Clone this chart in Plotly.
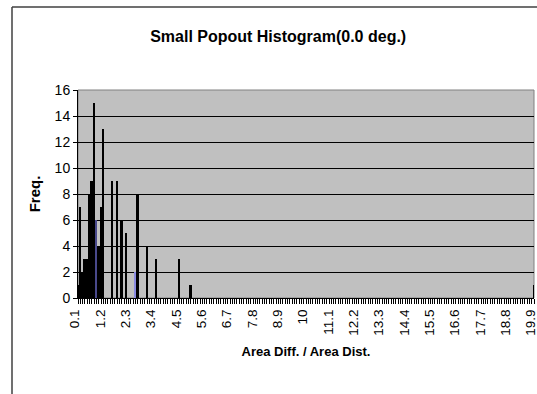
import plotly.graph_objects as go

# Histogram bins (Area Diff. / Area Dist.) that have counts, and their frequencies
bins = [0.1, 0.2, 0.3, 0.4, 0.5, 0.6, 0.7, 0.8, 0.9, 1.0, 1.1, 1.2,
        1.6, 1.8, 2.0, 2.2, 2.6, 2.7, 3.1, 3.5, 4.5, 5.0, 19.9]
freq = [1, 7, 2, 3, 3, 8, 9, 15, 6, 4, 7, 13,
        9, 9, 6, 5, 2, 8, 4, 3, 3, 1, 1]
bar_colors = ["#000000"] * 8 + ["#4a4a8c"] + ["#000000"] * 7 + ["#8a8ae0"] + ["#000000"] * 6

tick_labels = ["0.1", "1.2", "2.3", "3.4", "4.5", "5.6", "6.7", "7.8", "8.9", "10",
               "11.1", "12.2", "13.3", "14.4", "15.5", "16.6", "17.7", "18.8", "19.9"]
tick_vals = [float(t) for t in tick_labels]
y_ticks = [0, 2, 4, 6, 8, 10, 12, 14, 16]

W, H = 537, 394
# plot-area edges in pixels
PL, PR, PT, PB = 78, 534, 90, 298

fig = go.Figure()
fig.add_trace(go.Bar(
    x=bins, y=freq, width=0.08,
    marker=dict(color=bar_colors, line=dict(width=0)),
))

font = "Liberation Sans, Arial, sans-serif"
fig.update_layout(
    width=W, height=H,
    margin=dict(l=0, r=0, t=0, b=0, pad=0, autoexpand=False),
    paper_bgcolor="white",
    plot_bgcolor="#C0C0C0",
    showlegend=False,
    font=dict(family=font, color="black", size=14),
    title=dict(text="<b>Small Popout Histogram(0.0 deg.)</b>",
               x=0.518, xanchor="center", y=1 - 36 / H, yanchor="middle",
               font=dict(size=16, family=font)),
    bargap=0,
)
fig.update_xaxes(
    domain=[PL / W, PR / W],
    range=[0.1, 19.9], automargin=False,
    tickmode="array", tickvals=tick_vals, ticktext=tick_labels,
    tickangle=-90, tickfont=dict(size=13.5), ticklabelshift=-3,
    ticklabeloverflow="allow",
    ticks="outside", ticklen=5, tickcolor="black", tickwidth=1,
    minor=dict(dtick=0.1, tick0=0.1, ticks="outside", ticklen=5, tickcolor="black", tickwidth=1, showgrid=False),
    showline=True, linecolor="black", linewidth=1,
    showgrid=False, zeroline=False,
    title=dict(text="<b>Area Diff. / Area Dist.</b>", font=dict(size=13), standoff=12),
)
fig.update_yaxes(
    domain=[1 - PB / H, 1 - PT / H],
    range=[0, 16], tickvals=y_ticks, automargin=False,
    ticks="outside", ticklen=4, tickcolor="black",
    tickfont=dict(size=14),
    showline=True, linecolor="black", linewidth=1,
    showgrid=True, gridcolor="black", gridwidth=1,
    zeroline=False,
    title=dict(text="<b>Freq.</b>", font=dict(size=15), standoff=10),
)

# plot-area gray border (top / right)
fig.add_shape(type="rect", xref="x domain", yref="y domain", x0=0, x1=1, y0=0, y1=1,
              line=dict(color="#808080", width=1), layer="below")
# outer chart-area border: left and top edges (paper spans the whole window)
fig.add_shape(type="line", xref="paper", yref="paper",
              x0=12 / W, x1=12 / W, y0=0, y1=1 - 7 / H,
              line=dict(color="#404040", width=1.5), layer="above")
fig.add_shape(type="line", xref="paper", yref="paper",
              x0=12 / W, x1=1, y0=1 - 7 / H, y1=1 - 7 / H,
              line=dict(color="#404040", width=1.5), layer="above")

fig.write_html("out.html", config={"displayModeBar": False})
